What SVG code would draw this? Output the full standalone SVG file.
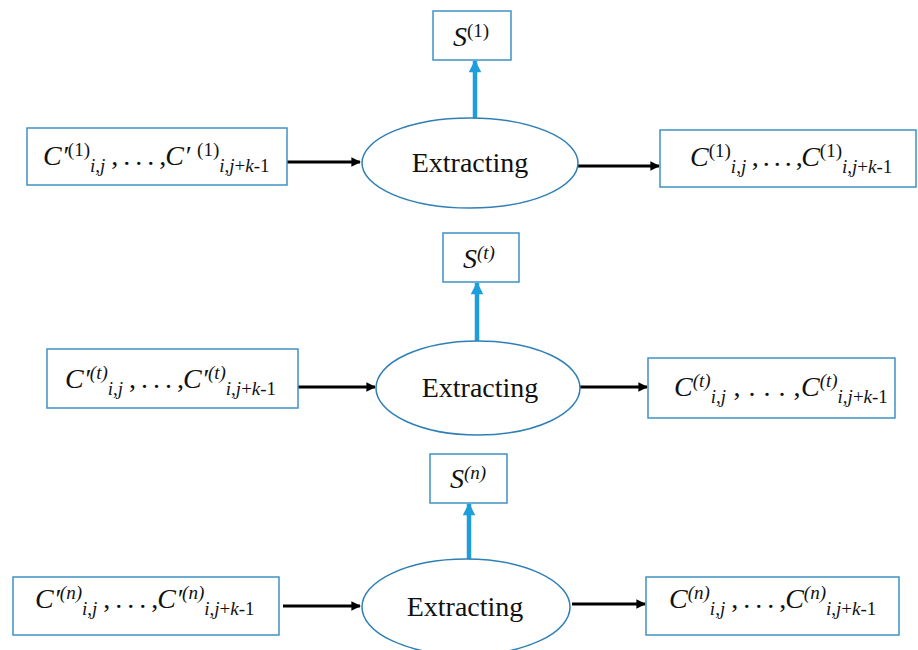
<svg xmlns="http://www.w3.org/2000/svg" width="918" height="650" viewBox="0 0 918 650" font-family="Liberation Serif, Times New Roman, serif">
  <style>
    .box { fill: #ffffff; stroke: #3f93c2; stroke-width: 1.5; }
    .ell { fill: #ffffff; stroke: #2f7fb5; stroke-width: 1.5; }
    .t { font-family: "Liberation Serif", "Times New Roman", serif; font-size: 28px; fill: #111111; }
    .it { font-style: italic; }
    .sm { font-size: 19px; }
    .gap { letter-spacing: -1px; }
    .gap2 { letter-spacing: -1.5px; }
    .gap3 { letter-spacing: 0.5px; }
    .blk { stroke: #000000; stroke-width: 3; fill: none; }
    .blu { stroke: #1e9fdb; stroke-width: 4.5; fill: none; }
  </style>
  <defs>
    <marker id="ah" viewBox="0 0 10 10" refX="9" refY="5" markerWidth="3.6" markerHeight="3.2" orient="auto" markerUnits="strokeWidth">
      <path d="M0,0 L10,5 L0,10 z" fill="#000000"/>
    </marker>
    <marker id="bh" viewBox="0 0 10 10" refX="9" refY="5" markerWidth="3.2" markerHeight="2.8" orient="auto" markerUnits="strokeWidth">
      <path d="M0,0 L10,5 L0,10 z" fill="#1e9fdb"/>
    </marker>
  </defs>

  <g id="connectors">
    <line class="blk" x1="287" y1="162" x2="360" y2="162" marker-end="url(#ah)"/>
    <line class="blk" x1="578" y1="166" x2="659" y2="166" marker-end="url(#ah)"/>
    <line class="blu" x1="475" y1="118" x2="475" y2="61" marker-end="url(#bh)"/>

    <line class="blk" x1="298" y1="387" x2="375" y2="387" marker-end="url(#ah)"/>
    <line class="blk" x1="580" y1="387" x2="647" y2="387" marker-end="url(#ah)"/>
    <line class="blu" x1="477" y1="341" x2="477" y2="283" marker-end="url(#bh)"/>

    <line class="blk" x1="283" y1="606" x2="360" y2="606" marker-end="url(#ah)"/>
    <line class="blk" x1="572" y1="604" x2="645" y2="604" marker-end="url(#ah)"/>
    <line class="blu" x1="469" y1="559" x2="469" y2="504" marker-end="url(#bh)"/>
  </g>

  <!-- stage 1 -->
  <g id="s1">
    <rect class="box" x="433" y="11" width="78" height="49"/>
    <text class="t" x="453" y="46"><tspan class="it">S</tspan><tspan class="sm" y="37">(1)</tspan></text>
  </g>
  <g id="in1">
    <rect class="box" x="27" y="128" width="260" height="57"/>
    <text class="t" x="43" y="165"><tspan class="it">C′</tspan><tspan class="sm" y="156">(1)</tspan><tspan class="sm it" y="172">i</tspan><tspan class="sm" y="172">,</tspan><tspan class="sm it" y="172">j</tspan><tspan class="gap" y="165"> , . . . ,</tspan><tspan class="it">C′ </tspan><tspan class="sm" y="156">(1)</tspan><tspan class="sm it" y="172">i</tspan><tspan class="sm" y="172">,</tspan><tspan class="sm it" y="172">j</tspan><tspan class="sm" y="172">+</tspan><tspan class="sm it" y="172">k</tspan><tspan class="sm" y="172">-1</tspan></text>
  </g>
  <g id="ex1">
    <ellipse class="ell" cx="470" cy="163" rx="108" ry="45"/>
    <text class="t" x="470" y="172" text-anchor="middle">Extracting</text>
  </g>
  <g id="out1">
    <rect class="box" x="660" y="130" width="256" height="57"/>
    <text class="t" x="690" y="166"><tspan class="it">C</tspan><tspan class="sm" y="157">(1)</tspan><tspan class="sm it" y="173">i</tspan><tspan class="sm" y="173">,</tspan><tspan class="sm it" y="173">j</tspan><tspan class="gap2" y="166"> , . . . ,</tspan><tspan class="it">C</tspan><tspan class="sm" y="157">(1)</tspan><tspan class="sm it" y="173">i</tspan><tspan class="sm" y="173">,</tspan><tspan class="sm it" y="173">j</tspan><tspan class="sm" y="173">+</tspan><tspan class="sm it" y="173">k</tspan><tspan class="sm" y="173">-1</tspan></text>
  </g>

  <!-- stage t -->
  <g id="st">
    <rect class="box" x="443" y="233" width="76" height="49"/>
    <text class="t" x="463" y="268"><tspan class="it">S</tspan><tspan class="sm it" y="259">(t)</tspan></text>
  </g>
  <g id="int">
    <rect class="box" x="47" y="349" width="251" height="59"/>
    <text class="t" x="65" y="388"><tspan class="it">C′</tspan><tspan class="sm it" y="379">(t)</tspan><tspan class="sm it" y="395">i</tspan><tspan class="sm" y="395">,</tspan><tspan class="sm it" y="395">j</tspan><tspan class="gap" y="388"> , . . . ,</tspan><tspan class="it">C′</tspan><tspan class="sm it" y="379">(t)</tspan><tspan class="sm it" y="395">i</tspan><tspan class="sm" y="395">,</tspan><tspan class="sm it" y="395">j</tspan><tspan class="sm" y="395">+</tspan><tspan class="sm it" y="395">k</tspan><tspan class="sm" y="395">-1</tspan></text>
  </g>
  <g id="ext">
    <ellipse class="ell" cx="478" cy="388" rx="102" ry="47"/>
    <text class="t" x="480" y="397" text-anchor="middle">Extracting</text>
  </g>
  <g id="outt">
    <rect class="box" x="648" y="358" width="247" height="60"/>
    <text class="t" x="674" y="396"><tspan class="it">C</tspan><tspan class="sm it" y="387">(t)</tspan><tspan class="sm it" y="403">i</tspan><tspan class="sm" y="403">,</tspan><tspan class="sm it" y="403">j</tspan><tspan class="gap3" y="396"> , . . . ,</tspan><tspan class="it">C</tspan><tspan class="sm it" y="387">(t)</tspan><tspan class="sm it" y="403">i</tspan><tspan class="sm" y="403">,</tspan><tspan class="sm it" y="403">j</tspan><tspan class="sm" y="403">+</tspan><tspan class="sm it" y="403">k</tspan><tspan class="sm" y="403">-1</tspan></text>
  </g>

  <!-- stage n -->
  <g id="sn">
    <rect class="box" x="430" y="454" width="77" height="49"/>
    <text class="t" x="450" y="488"><tspan class="it">S</tspan><tspan class="sm it" y="479">(n)</tspan></text>
  </g>
  <g id="inn">
    <rect class="box" x="13" y="577" width="266" height="58"/>
    <text class="t" x="35" y="608"><tspan class="it">C′</tspan><tspan class="sm it" y="599">(n)</tspan><tspan class="sm it" y="615">i</tspan><tspan class="sm" y="615">,</tspan><tspan class="sm it" y="615">j</tspan><tspan class="gap" y="608"> , . . . ,</tspan><tspan class="it">C′</tspan><tspan class="sm it" y="599">(n)</tspan><tspan class="sm it" y="615">i</tspan><tspan class="sm" y="615">,</tspan><tspan class="sm it" y="615">j</tspan><tspan class="sm" y="615">+</tspan><tspan class="sm it" y="615">k</tspan><tspan class="sm" y="615">-1</tspan></text>
  </g>
  <g id="exn">
    <ellipse class="ell" cx="466" cy="607" rx="104" ry="48"/>
    <text class="t" x="465" y="616" text-anchor="middle">Extracting</text>
  </g>
  <g id="outn">
    <rect class="box" x="646" y="577" width="253" height="58"/>
    <text class="t" x="669" y="608"><tspan class="it">C</tspan><tspan class="sm it" y="599">(n)</tspan><tspan class="sm it" y="615">i</tspan><tspan class="sm" y="615">,</tspan><tspan class="sm it" y="615">j</tspan><tspan class="gap" y="608"> , . . . ,</tspan><tspan class="it">C</tspan><tspan class="sm it" y="599">(n)</tspan><tspan class="sm it" y="615">i</tspan><tspan class="sm" y="615">,</tspan><tspan class="sm it" y="615">j</tspan><tspan class="sm" y="615">+</tspan><tspan class="sm it" y="615">k</tspan><tspan class="sm" y="615">-1</tspan></text>
  </g>
</svg>
